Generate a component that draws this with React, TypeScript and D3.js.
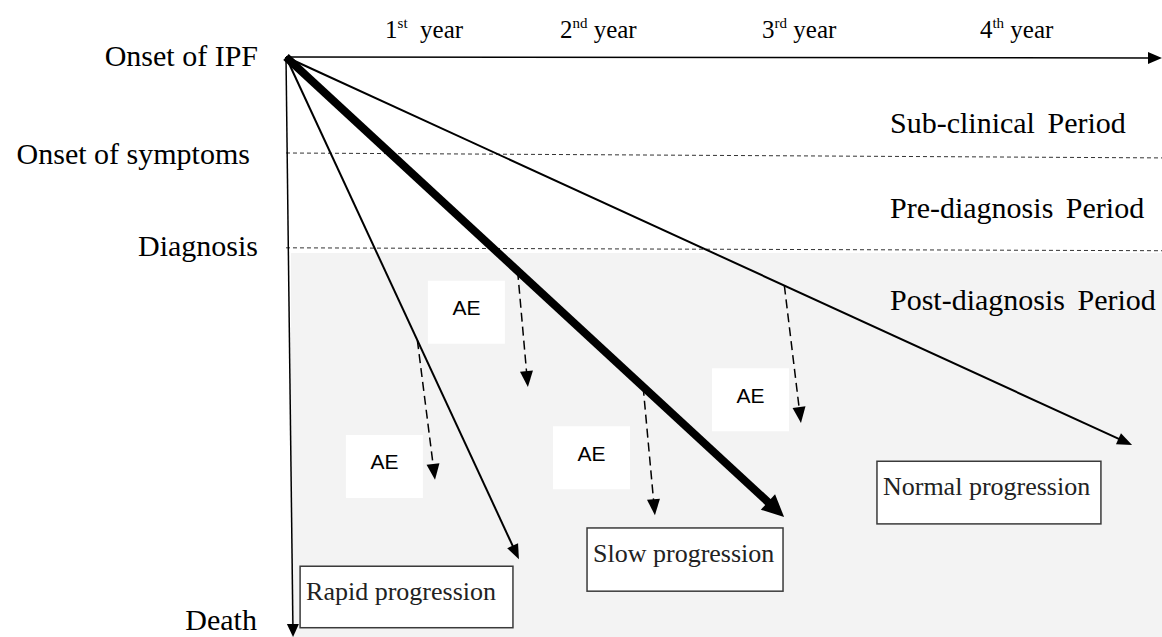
import * as React from "react";
import { useEffect, useRef } from "react";
import * as d3 from "d3";

const width = 1162;
const height = 637;

// x: years since onset, y: course of disease (0 = onset of IPF, 100 = death)
const yearNumbers = ["1", "2", "3", "4"];
const yearSuffixes = ["st", "nd", "rd", "th"];
const yearLabelX = [0.464, 1.283, 2.23, 3.25];
const yearLabelY = -3.3;

const milestones = ["Onset of IPF", "Onset of symptoms", "Diagnosis", "Death"];
const milestoneX = [-0.131, -0.169, -0.131, -0.136];
const milestoneY = [1.55, 18.4, 34.3, 98.8];

const periods = ["Sub-clinical Period", "Pre-diagnosis Period", "Post-diagnosis Period"];
const periodX = 2.829;
const periodY = [13.1, 27.8, 43.6];

// dashed boundaries: [y at left, y at right]
const boundaryY = [
  [16.55, 17.4],
  [32.9, 33.4],
];
const postDiagnosisTop = 33.8;

const timeAxisEnd = [4.103, 0.17];
const deathAxisEnd = [0.033, 100];

const courseNames = ["Rapid progression", "Slow progression", "Normal progression"];
const courseEnd = [
  [1.091, 86.6],
  [2.333, 79.3],
  [3.963, 66.9],
];
const courseWidth = [2, 8, 2];
const boxX0 = [0.066, 1.41, 2.768];
const boxX1 = [1.063, 2.328, 3.817];
const boxY0 = [87.8, 81.2, 69.7];
const boxY1 = [98.4, 92.1, 80.5];

// acute exacerbations: which course, fraction along it, where the drop ends
const aeCourse = [0, 1, 1, 2];
const aeT = [0.564, 0.465, 0.717, 0.589];
const aeEnd = [
  [0.698, 72.9],
  [1.133, 56.9],
  [1.728, 79.0],
  [2.412, 63.1],
];
const aeLabelX = [0.461, 0.845, 1.431, 2.176];
const aeLabelY = [70.6, 44.0, 69.1, 59.1];

const serif = "'Liberation Serif', 'Times New Roman', serif";

const App = () => {
  const ref = useRef<SVGSVGElement>(null);

  useEffect(() => {
    const svg = d3.select(ref.current);
    svg.selectAll("*").remove();

    const x = d3.scaleLinear().domain([0, 4]).range([286, 1140]);
    const y = d3.scaleLinear().domain([0, 100]).range([57, 637]);
    const line = d3.line<number[]>().x((d) => d[0]).y((d) => d[1]);

    const arrow = (x0, y0, x1, y1, sw, head, headW, dash?) => {
      const len = Math.hypot(x1 - x0, y1 - y0);
      const ux = (x1 - x0) / len;
      const uy = (y1 - y0) / len;
      const bx = x1 - ux * head;
      const by = y1 - uy * head;
      svg
        .append("path")
        .attr("d", line([[x0, y0], [bx + ux, by + uy]]))
        .attr("stroke", "#000")
        .attr("stroke-width", sw)
        .attr("fill", "none")
        .attr("stroke-dasharray", dash || null);
      const nx = -uy * headW / 2;
      const ny = ux * headW / 2;
      svg
        .append("path")
        .attr("d", line([[x1, y1], [bx + nx, by + ny], [bx - nx, by - ny]]) + "Z")
        .attr("fill", "#000");
    };

    // post-diagnosis shading
    svg
      .append("rect")
      .attr("x", x(deathAxisEnd[0]) - 2)
      .attr("y", y(postDiagnosisTop))
      .attr("width", x(timeAxisEnd[0]) - x(deathAxisEnd[0]) + 2)
      .attr("height", y(100) - y(postDiagnosisTop))
      .attr("fill", "#f3f3f3");

    boundaryY.forEach((b) => {
      svg
        .append("path")
        .attr("d", line([[x(0), y(b[0])], [x(timeAxisEnd[0]), y(b[1])]]))
        .attr("stroke", "#333")
        .attr("stroke-width", 1)
        .attr("stroke-dasharray", "4,3");
    });

    // AE label boxes
    aeLabelX.forEach((ax, i) => {
      const cx = x(ax);
      const cy = y(aeLabelY[i]);
      svg.append("rect").attr("x", cx - 38.5).attr("y", cy - 31.5).attr("width", 77).attr("height", 63).attr("fill", "#fff");
      svg
        .append("text")
        .attr("x", cx)
        .attr("y", cy + 3)
        .attr("text-anchor", "middle")
        .attr("font-family", "'Liberation Sans', Arial, sans-serif")
        .attr("font-size", 21)
        .text("AE");
    });

    // axes
    arrow(x(0), y(0), x(timeAxisEnd[0]), y(timeAxisEnd[1]), 1.5, 14, 12);
    arrow(x(0), y(0), x(deathAxisEnd[0]), y(deathAxisEnd[1]), 1.5, 13, 12);

    // courses
    courseEnd.forEach((e, i) => {
      const thick = courseWidth[i] > 4;
      arrow(x(0), y(0), x(e[0]), y(e[1]), courseWidth[i], thick ? 22 : 15, thick ? 21 : 12);
    });

    // AE drops
    aeCourse.forEach((c, i) => {
      const e = courseEnd[c];
      const sx = x(0) + (x(e[0]) - x(0)) * aeT[i];
      const sy = y(0) + (y(e[1]) - y(0)) * aeT[i];
      arrow(sx, sy, x(aeEnd[i][0]), y(aeEnd[i][1]), 1.5, 16, 13, "9,5");
    });

    // outcome boxes
    courseNames.forEach((n, i) => {
      svg
        .append("rect")
        .attr("x", x(boxX0[i]))
        .attr("y", y(boxY0[i]))
        .attr("width", x(boxX1[i]) - x(boxX0[i]))
        .attr("height", y(boxY1[i]) - y(boxY0[i]))
        .attr("fill", "#fff")
        .attr("stroke", "#3a3a3a")
        .attr("stroke-width", 1.5);
      svg
        .append("text")
        .attr("x", x(boxX0[i]) + 6)
        .attr("y", y(boxY0[i]) + 34)
        .attr("font-family", serif)
        .attr("font-size", 26)
        .attr("fill", "#222")
        .text(n);
    });

    // milestone labels
    milestones.forEach((m, i) => {
      svg
        .append("text")
        .attr("x", x(milestoneX[i]))
        .attr("y", y(milestoneY[i]))
        .attr("text-anchor", "end")
        .attr("font-family", serif)
        .attr("font-size", 30)
        .text(m);
    });

    periods.forEach((p, i) => {
      svg
        .append("text")
        .attr("x", x(periodX))
        .attr("y", y(periodY[i]))
        .attr("font-family", serif)
        .attr("font-size", 30)
        .attr("word-spacing", 5)
        .text(p);
    });

    yearNumbers.forEach((n, i) => {
      const t = svg
        .append("text")
        .attr("x", x(yearLabelX[i]))
        .attr("y", y(yearLabelY))
        .attr("font-family", serif)
        .attr("font-size", 25);
      t.append("tspan").text(n);
      t.append("tspan").attr("font-size", 15).attr("dy", -10).text(yearSuffixes[i]);
      t.append("tspan").attr("dy", 10).text(i === 0 ? "\u00a0 year" : " year");
    });
  });

  return (
    <svg
      ref={ref}
      width={width}
      height={height}
      style={{ position: "absolute", left: 0, top: 0, background: "#fff" }}
    ></svg>
  );
};

export default App;
